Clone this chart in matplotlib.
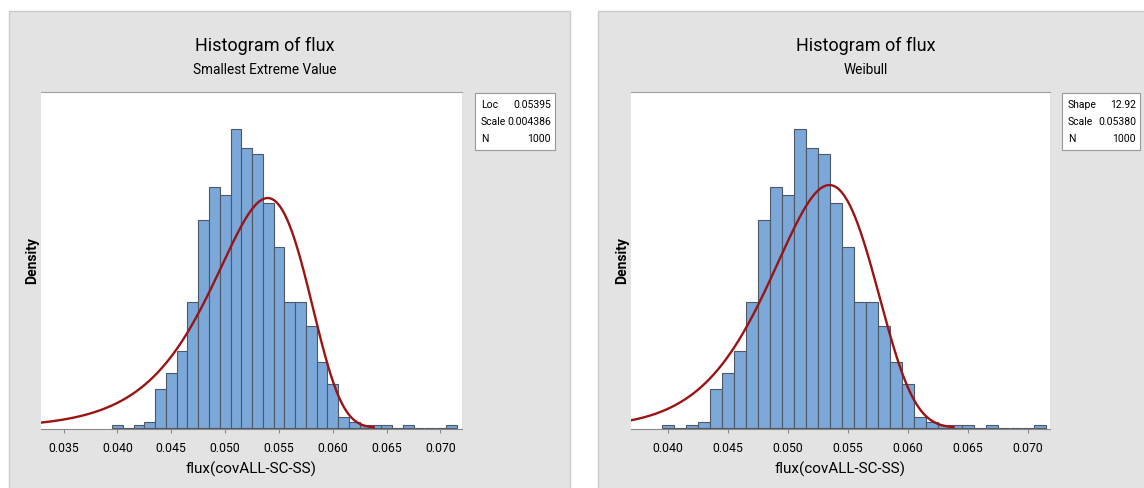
import numpy as np
import matplotlib
matplotlib.use("Agg")
import matplotlib.pyplot as plt
from matplotlib.patches import Rectangle

plt.rcParams['font.family'] = ['Roboto', 'DejaVu Sans']

# histogram data: bin centers (width 0.001) and counts, N = 1000
bin_centers = [0.040, 0.041, 0.042, 0.043, 0.044, 0.045, 0.046, 0.047, 0.048, 0.049,
               0.050, 0.051, 0.052, 0.053, 0.054, 0.055, 0.056, 0.057, 0.058, 0.059,
               0.060, 0.061, 0.062, 0.063, 0.064, 0.065, 0.066, 0.067, 0.068, 0.069,
               0.070, 0.071]
counts = [1, 0, 1, 2, 14, 20, 28, 46, 76, 88,
          85, 109, 102, 100, 82, 66, 46, 46, 37, 24,
          16, 4, 2, 1, 1, 1, 0, 1, 0, 0,
          0, 1]
bin_width = 0.001
n_obs = 1000

# fitted parameters
sev_loc = 0.05395
sev_scale = 0.004386
wb_shape = 12.92
wb_scale = 0.05380

xticks_left = [0.035, 0.040, 0.045, 0.050, 0.055, 0.060, 0.065, 0.070]
xticks_right = [0.040, 0.045, 0.050, 0.055, 0.060, 0.065, 0.070]


def sev_pdf(x, loc, scale):
    z = (x - loc) / scale
    return np.exp(z - np.exp(z)) / scale


def weibull_pdf(x, k, lam):
    t = x / lam
    return (k / lam) * t ** (k - 1) * np.exp(-t ** k)


W, H = 1144, 488
fig = plt.figure(figsize=(W / 100, H / 100), dpi=100)
fig.patch.set_facecolor('white')

bar_color = '#7ba7d9'
edge_color = '#4d5966'
curve_color = '#9b1414'
panel_color = '#e3e3e3'


def px(x0, y0, x1, y1):
    # pixel box (top-down) -> figure fraction rect
    return [x0 / W, 1 - y1 / H, (x1 - x0) / W, (y1 - y0) / H]


def panel(p_box, ax_box, xlim, xticks, subtitle, title_x, legend_box, legend_rows, pdf):
    r = px(*p_box)
    fig.patches.append(Rectangle((r[0], r[1]), r[2], r[3], transform=fig.transFigure,
                                 facecolor=panel_color, edgecolor='#cccccc', lw=1, zorder=-5))
    ax = fig.add_axes(px(*ax_box))
    ax.set_zorder(1)
    ax.set_facecolor('white')
    dens = np.array(counts) / (n_obs * bin_width)
    ax.bar(bin_centers, dens, width=bin_width, color=bar_color, edgecolor=edge_color,
           linewidth=0.8, zorder=2)
    xs = np.linspace(xlim[0], 0.0638, 400)
    ax.plot(xs, pdf(xs), color=curve_color, lw=1.7, zorder=3)
    ax.set_xlim(*xlim)
    ax.set_ylim(-0.47, 122.6)
    ax.set_yticks([])
    ax.set_xticks(xticks)
    ax.set_xticklabels(['%.3f' % t for t in xticks], fontsize=8.8)
    ax.tick_params(axis='x', length=3, color='#888888', pad=6)
    for s in ['left', 'right']:
        ax.spines[s].set_visible(False)
    ax.spines['top'].set_color('#a0a0a0')
    ax.spines['bottom'].set_color('#888888')
    ax.set_xlabel('flux(covALL-SC-SS)', fontsize=11, labelpad=5)
    ax.set_ylabel('Density', fontsize=10, fontweight='bold', labelpad=1)

    fig.text(title_x / W, 1 - 46 / H, 'Histogram of flux', fontsize=13, ha='center', va='center')
    fig.text(title_x / W, 1 - 70 / H, subtitle, fontsize=9.8, ha='center', va='center')

    lb = px(*legend_box)
    fig.patches.append(Rectangle((lb[0], lb[1]), lb[2], lb[3], transform=fig.transFigure,
                                 facecolor='white', edgecolor='#999999', lw=0.8, zorder=5))
    for i, (lab, val) in enumerate(legend_rows):
        yy = 1 - (105 + i * 17) / H
        fig.text((legend_box[0] + 6) / W, yy, lab, fontsize=7.5, ha='left', va='center', zorder=6)
        fig.text((legend_box[2] - 4) / W, yy, val, fontsize=7.5, ha='right', va='center', zorder=6)
    return ax


panel((9, 11, 570, 490), (41, 92, 462, 429), (0.0329, 0.0720), xticks_left,
      'Smallest Extreme Value', 265, (475, 93, 555, 150),
      [('Loc', '0.05395'), ('Scale', '0.004386'), ('N', '1000')],
      lambda x: sev_pdf(x, sev_loc, sev_scale))

panel((598, 11, 1146, 490), (631, 92, 1050, 429), (0.03695, 0.07183), xticks_right,
      'Weibull', 866, (1062, 93, 1140, 150),
      [('Shape', '12.92'), ('Scale', '0.05380'), ('N', '1000')],
      lambda x: weibull_pdf(x, wb_shape, wb_scale))

fig.savefig('out.png', dpi=100)
